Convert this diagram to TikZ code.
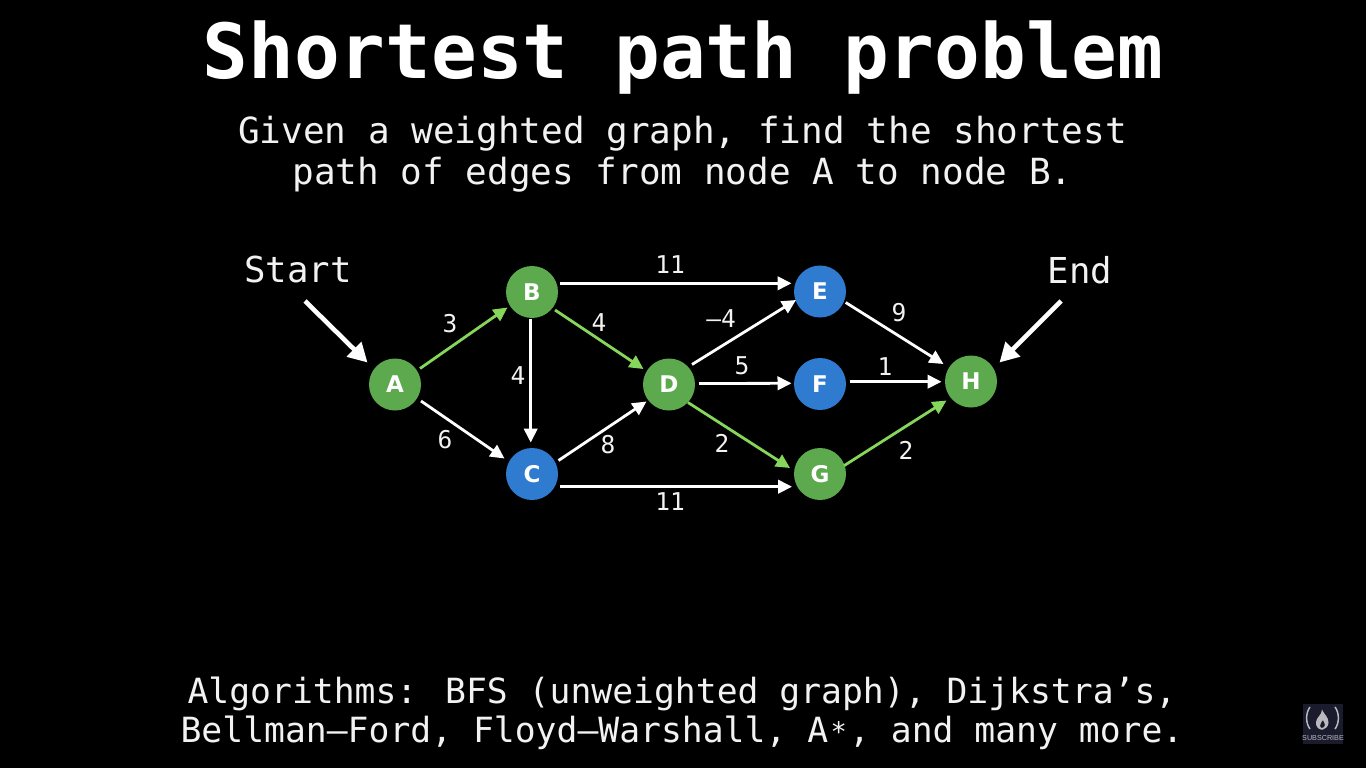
\documentclass[tikz,border=0pt]{standalone}
\usepackage{fontspec}
\setmainfont{DejaVu Sans Mono}
\newfontfamily\sansf{DejaVu Sans}
\newfontfamily\subf{Liberation Sans}
\usetikzlibrary{arrows.meta}
\definecolor{ngreen}{HTML}{5CA94E}
\definecolor{nblue}{HTML}{2F7BD0}
\definecolor{egreen}{HTML}{85D65A}
\definecolor{badge}{HTML}{1B1B2E}
\definecolor{bgrey}{HTML}{B8B8BE}
\definecolor{txt}{HTML}{F2F2F2}
\tikzset{
 x=1pt,y=-1pt,
 vert/.style={circle,minimum size=52pt,inner sep=0pt,text=white,font=\sansf\bfseries\fontsize{23}{23}\selectfont},
 gv/.style={vert,fill=ngreen},
 bv/.style={vert,fill=nblue},
 edge/.style={draw=white,line width=2.8pt,-{Triangle[length=14pt,width=13.5pt]}},
 gedge/.style={edge,draw=egreen},
 bigarrow/.style={draw=white,line width=4.6pt,-{Triangle[length=19pt,width=20pt]}},
 wlab/.style={text=txt,font=\fontsize{24.5}{24.5}\selectfont,inner sep=0pt},
 ttl/.style={text=txt,inner sep=0pt,anchor=center},
}
\begin{document}
\begin{tikzpicture}
\useasboundingbox[fill=black] (0,0) rectangle (1366,768);
\node[ttl,text=white,font=\bfseries\fontsize{76}{76}\selectfont] (title) at (683,58) {Shortest path problem};
\node[ttl,font=\fontsize{36}{36}\selectfont] (s1) at (682.5,134) {Given a weighted graph, find the shortest};
\node[ttl,font=\fontsize{36}{36}\selectfont] (s2) at (682.5,175) {path of edges from node A to node B.};
\node[ttl,font=\fontsize{34.7}{34.7}\selectfont] (a1) at (682,694) {Algorithms: BFS (unweighted graph), Dijkstra’s,};
\node[ttl,font=\fontsize{34.7}{34.7}\selectfont] (a2) at (682,733) {Bellman–Ford, Floyd–Warshall, A\makebox[20.9pt]{\fontsize{27}{27}\selectfont\raisebox{1pt}{*}}, and many more.};
\node[ttl,font=\fontsize{35.7}{35.7}\selectfont] (start) at (298,270) {Start};
\node[ttl,font=\fontsize{35.7}{35.7}\selectfont] (end) at (1080,270) {End};
\coordinate (st) at (305,301);
\coordinate (en) at (1061,301);
\node[gv] (A) at (395,384.5) {A};
\node[gv] (B) at (532,292) {B};
\node[bv] (C) at (532,474) {C};
\node[gv] (D) at (669,384.5) {D};
\node[bv] (E) at (820,291.5) {E};
\node[bv] (F) at (820,384) {F};
\node[gv] (G) at (820,474) {G};
\node[gv] (H) at (971,381.5) {H};
\draw[bigarrow] (st) -- ([shift={(-27.5,-22)}]A.center);
\draw[bigarrow] (en) -- ([shift={(28.5,-19)}]H.center);
\draw[gedge] ([shift={(25,-16)}]A.center) -- ([shift={(-24.5,15.5)}]B.center);
\draw[edge] ([shift={(26,16.5)}]A.center) -- ([shift={(-27.5,-15.5)}]C.center);
\draw[edge] ([shift={(-1.3,26.5)}]B.center) -- ([shift={(-1.3,-31.5)}]C.center);
\draw[gedge] ([shift={(23,18)}]B.center) -- ([shift={(-25.5,-15.5)}]D.center);
\draw[edge] ([shift={(26.5,-13.5)}]C.center) -- ([shift={(-22.5,17)}]D.center);
\draw[edge] ([shift={(23,-20)}]D.center) -- ([shift={(-24,8.5)}]E.center);
\draw[edge] ([shift={(30,-1)}]D.center) -- ([shift={(-28.5,-0.7)}]F.center);
\draw[gedge] ([shift={(19,18)}]D.center) -- ([shift={(-30,-6)}]G.center);
\draw[edge] ([shift={(25.7,11)}]E.center) -- ([shift={(-27.5,-17.5)}]H.center);
\draw[edge] ([shift={(29.5,-2.3)}]F.center) -- ([shift={(-29.5,0.2)}]H.center);
\draw[gedge] ([shift={(24,-8.3)}]G.center) -- ([shift={(-24.5,19)}]H.center);
\draw[edge] ([shift={(27.5,-8.7)}]B.center) -- ([shift={(-28.5,-8.2)}]E.center);
\draw[edge] ([shift={(27.5,12.7)}]C.center) -- ([shift={(-28,12.7)}]G.center);
\node[wlab] (w1) at (450,324) {3};
\node[wlab] (w2) at (445,440) {6};
\node[wlab] (w3) at (518,376) {4};
\node[wlab] (w4) at (599,323) {4};
\node[wlab] (w5) at (608,445) {8};
\node[wlab] (w6) at (670,265) {11};
\node[wlab] (w7) at (670,502) {11};
\node[wlab] (w8) at (721,319) {–4};
\node[wlab] (w9) at (742,366) {5};
\node[wlab] (w10) at (722,443) {2};
\node[wlab] (w11) at (899,313) {9};
\node[wlab] (w12) at (885,367) {1};
\node[wlab] (w13) at (906,450) {2};
% subscribe badge
\fill[badge] (1303,704) rectangle (1342.5,743.5);
\draw[bgrey,line width=1.5pt] (1310,707) .. controls (1305.5,713) and (1305.5,723) .. (1310,729);
\draw[bgrey,line width=1.5pt] (1335,707) .. controls (1339.5,713) and (1339.5,723) .. (1335,729);
\fill[bgrey,even odd rule] (1322,709.5) .. controls (1323.5,714) and (1329,717) .. (1328.5,723) .. controls (1328,727) and (1325,729) .. (1323,729.5) -- (1321,729.5) .. controls (1318,729) and (1315.5,726) .. (1316,722) .. controls (1316.5,717) and (1322,715) .. (1322,709.5) -- cycle
 (1323,720) .. controls (1322,722) and (1319.5,723.5) .. (1320,726) .. controls (1320.5,727.5) and (1321,728) .. (1322,728) .. controls (1323.5,728) and (1325,726.5) .. (1325,725) .. controls (1325,723) and (1323.5,722) .. (1323,720) -- cycle;
\node[text=bgrey,inner sep=0pt,font=\subf\fontsize{7.2}{7.2}\selectfont] (sub) at (1323,738) {SUBSCRIBE};
\end{tikzpicture}
\end{document}
